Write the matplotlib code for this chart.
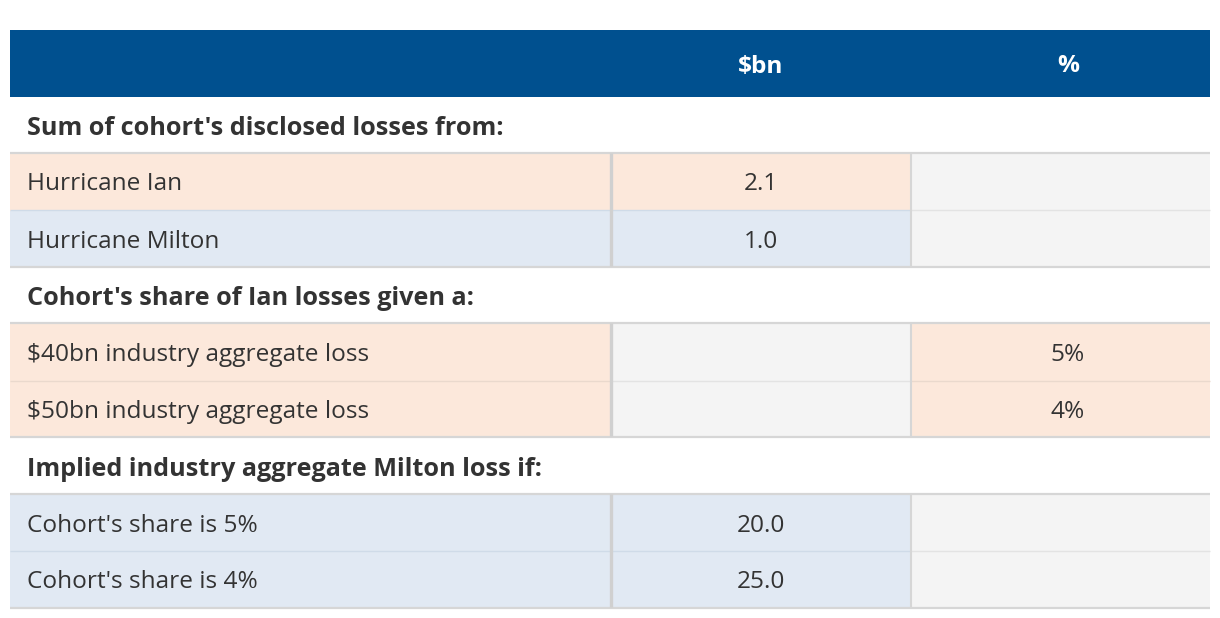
import matplotlib
matplotlib.use("Agg")
import matplotlib.pyplot as plt
from matplotlib.patches import Rectangle

plt.rcParams["font.family"] = ["Open Sans", "DejaVu Sans"]

# table content
col_headers = ["", "$bn", "%"]
sections = [
    "Sum of cohort's disclosed losses from:",
    "Cohort's share of Ian losses given a:",
    "Implied industry aggregate Milton loss if:",
]
section_rows = [
    ["Hurricane Ian", "Hurricane Milton"],
    ["$40bn industry aggregate loss", "$50bn industry aggregate loss"],
    ["Cohort's share is 5%", "Cohort's share is 4%"],
]
bn_values = [["2.1", "1.0"], ["", ""], ["20.0", "25.0"]]
pct_values = [["", ""], ["5%", "4%"], ["", ""]]
row_kind = [["ian", "milton"], ["ian", "ian"], ["milton", "milton"]]

# colours
header_blue = "#00508F"
fills = {"ian": "#FCE8DB", "milton": "#E1E9F3", "empty": "#F4F4F4"}
row_lines = {"ian": "#EAD9CD", "milton": "#CFDBE8", "empty": "#E3E3E3"}
text_col = "#333333"
border = "#D6D6D6"

W, H = 1220, 618
fig = plt.figure(figsize=(W / 100, H / 100), dpi=100)
ax = fig.add_axes([0, 0, 1, 1])
ax.set_xlim(0, W)
ax.set_ylim(H, 0)
ax.axis("off")

x0, x1, x2, x3 = 10, 611, 911, 1210
col_edges = [(x0, x1), (x1, x2), (x2, x3)]
col_text_x = [27, 761, 1068]
fs = 17.6
fs_bold = 18.2

# header
top, head_h = 30, 67
ax.add_patch(Rectangle((x0, top), x3 - x0, head_h, color=header_blue, lw=0))
for tx, lab in zip(col_text_x, col_headers):
    if lab:
        ax.text(tx, top + head_h / 2 + 3, lab, color="white", fontsize=fs,
                fontweight="bold", ha="center", va="center", parse_math=False)

y = top + head_h
sec_h = 54.5
row_hs = [57, 55]
for s, title in enumerate(sections):
    ax.text(27, y + sec_h / 2 + 4, title, color=text_col, fontsize=fs_bold,
            fontweight="bold", ha="left", va="center", parse_math=False)
    y += sec_h
    g_top = y + 1
    y += 2
    for r, lab in enumerate(section_rows[s]):
        kind = row_kind[s][r]
        rh = row_hs[r]
        cells = [lab, bn_values[s][r], pct_values[s][r]]
        for c, ((a, b), val) in enumerate(zip(col_edges, cells)):
            k = kind if (c == 0 or val) else "empty"
            ax.add_patch(Rectangle((a, y), b - a, rh, color=fills[k], lw=0))
            if r > 0:
                ax.plot([a, b], [y - 0.5, y - 0.5], color=row_lines[k], lw=1.0,
                        solid_capstyle="butt")
            if val:
                ha = "left" if c == 0 else "center"
                ax.text(col_text_x[c], y + 28 + 3, val, color=text_col,
                        fontsize=fs, ha=ha, va="center", parse_math=False)
        y += rh
    # group borders
    ax.plot([x0, x3], [g_top, g_top], color=border, lw=1.6, solid_capstyle="butt")
    ax.plot([x0, x3], [y + 1, y + 1], color=border, lw=1.6, solid_capstyle="butt")
    ax.plot([x1, x1], [g_top, y], color="#D0D0D0", lw=2.4, solid_capstyle="butt")
    ax.plot([x2, x2], [g_top, y], color="#D6D6D6", lw=1.5, solid_capstyle="butt")
    y += 2

fig.savefig("out.png", dpi=100, facecolor="white")
